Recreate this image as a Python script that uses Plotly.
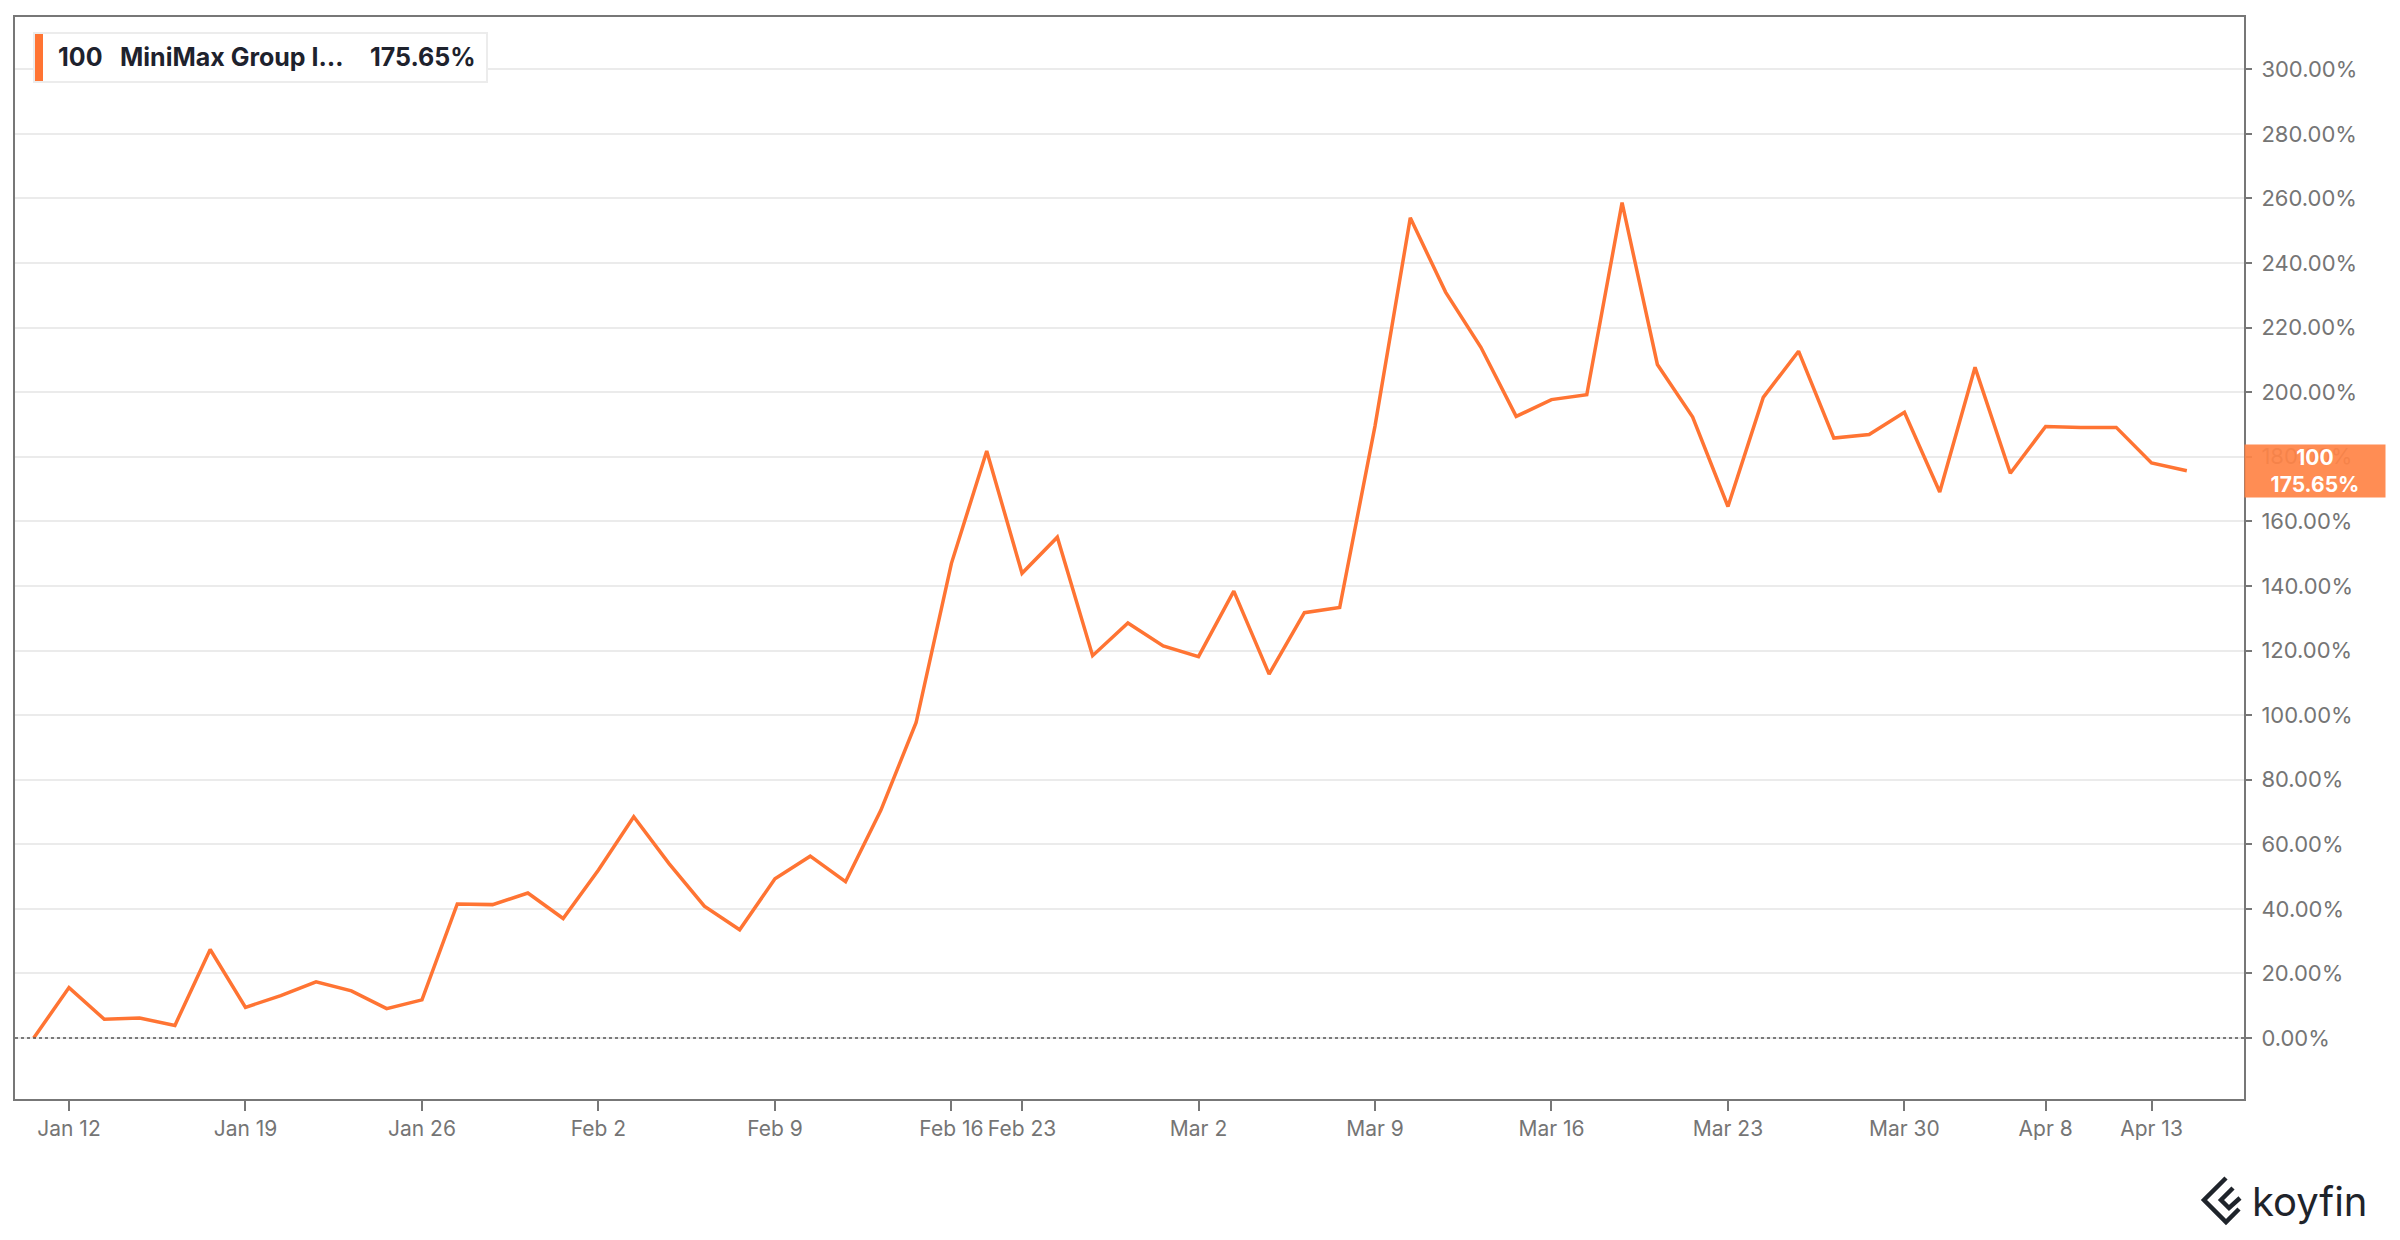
import plotly.graph_objects as go

# ---- data ----
dates = [
    "2026-01-09",
    "2026-01-12", "2026-01-13", "2026-01-14", "2026-01-15", "2026-01-16",
    "2026-01-19", "2026-01-20", "2026-01-21", "2026-01-22", "2026-01-23",
    "2026-01-26", "2026-01-27", "2026-01-28", "2026-01-29", "2026-01-30",
    "2026-02-02", "2026-02-03", "2026-02-04", "2026-02-05", "2026-02-06",
    "2026-02-09", "2026-02-10", "2026-02-11", "2026-02-12", "2026-02-13",
    "2026-02-16", "2026-02-20",
    "2026-02-23", "2026-02-24", "2026-02-25", "2026-02-26", "2026-02-27",
    "2026-03-02", "2026-03-03", "2026-03-04", "2026-03-05", "2026-03-06",
    "2026-03-09", "2026-03-10", "2026-03-11", "2026-03-12", "2026-03-13",
    "2026-03-16", "2026-03-17", "2026-03-18", "2026-03-19", "2026-03-20",
    "2026-03-23", "2026-03-24", "2026-03-25", "2026-03-26", "2026-03-27",
    "2026-03-30", "2026-03-31", "2026-04-01", "2026-04-02",
    "2026-04-08", "2026-04-09", "2026-04-10", "2026-04-13", "2026-04-14",
]
returns_pct = [
    0.0,
    15.6, 5.8, 6.2, 3.9, 27.4,
    9.5, 13.1, 17.4, 14.6, 9.1,
    11.8, 41.5, 41.3, 44.9, 37.0,
    52.0, 68.5, 54.0, 40.8, 33.5,
    49.3, 56.3, 48.4, 70.5, 97.7,
    147.0, 181.8,
    143.9, 155.1, 118.4, 128.5, 121.4,
    118.1, 138.4, 112.7, 131.7, 133.3,
    189.5, 254.0, 231.0, 213.9, 192.5,
    197.7, 199.2, 258.7, 208.6, 192.3,
    164.6, 198.4, 212.7, 185.8, 186.9,
    193.8, 169.1, 207.7, 174.9,
    189.4, 189.1, 189.1, 178.1, 175.65,
]
tick_dates = ["2026-01-12", "2026-01-19", "2026-01-26", "2026-02-02", "2026-02-09",
              "2026-02-16", "2026-02-23", "2026-03-02", "2026-03-09", "2026-03-16",
              "2026-03-23", "2026-03-30", "2026-04-08", "2026-04-13"]
tick_labels = ["Jan 12", "Jan 19", "Jan 26", "Feb 2", "Feb 9", "Feb 16", "Feb 23",
               "Mar 2", "Mar 9", "Mar 16", "Mar 23", "Mar 30", "Apr 8", "Apr 13"]
y_ticks = list(range(0, 301, 20))
series_id = "100"
series_name = "MiniMax Group I…"
last_value_text = "175.65%"

ORANGE = "#FF7433"
LABEL_ORANGE = "rgba(255,132,71,0.93)"
AXIS = "#777777"
TXT = "#757575"
DARK = "#1e222d"
FONT = "Inter"

W, H = 2400, 1240
L, R, T, B = 15, 156, 17, 141
PW, PH = W - L - R, H - T - B


def px(x):
    return (x - L) / PW


def py(y):
    return (H - B - y) / PH


fig = go.Figure()
fig.add_trace(go.Scatter(
    x=dates, y=returns_pct, mode="lines",
    line=dict(color=ORANGE, width=3.5),
    showlegend=False, hoverinfo="x+y",
))

fig.update_layout(
    width=W, height=H,
    margin=dict(l=L, r=R, t=T, b=B),
    paper_bgcolor="white", plot_bgcolor="white",
    font=dict(family=FONT, color=TXT, size=22),
    showlegend=False,
    xaxis=dict(
        type="category",
        range=[-0.53, 62.62],
        tickmode="array", tickvals=tick_dates, ticktext=tick_labels,
        tickangle=0,
        ticks="outside", ticklen=10, tickwidth=1.5, tickcolor=AXIS,
        showgrid=False, zeroline=False,
        showline=True, linecolor=AXIS, linewidth=2, mirror=True,
        tickfont=dict(family=FONT, size=21, color=TXT),
    ),
    yaxis=dict(
        side="right",
        range=[-18.9, 316.2],
        tickmode="array", tickvals=y_ticks,
        ticktext=[f"{v:.2f}%" for v in y_ticks],
        ticks="outside", ticklen=6, tickwidth=2, tickcolor=AXIS,
        showgrid=True, gridcolor="#ebebeb", gridwidth=1.5,
        zeroline=False,
        showline=True, linecolor=AXIS, linewidth=2, mirror=True,
        tickfont=dict(family=FONT, size=22, color=TXT),
        ticklabelstandoff=5,
    ),
)

shapes = [
    # zero reference line
    dict(type="line", xref="paper", x0=0, x1=1, yref="y", y0=0, y1=0,
         line=dict(color="#555555", width=1.5, dash="dot"), layer="above"),
    # legend box
    dict(type="rect", xref="paper", yref="paper",
         x0=px(34), x1=px(487), y0=py(82), y1=py(33),
         line=dict(color="#ececec", width=2), fillcolor="white", layer="above"),
    dict(type="rect", xref="paper", yref="paper",
         x0=px(35), x1=px(43), y0=py(81), y1=py(34),
         line=dict(width=0), fillcolor=ORANGE, layer="above"),
    # koyfin icon
    dict(type="path", xref="paper", yref="paper",
         path=(f"M {px(2226)},{py(1178)} L {px(2204)},{py(1200)} L {px(2226)},{py(1222)} "
               f"L {px(2239)},{py(1209)}"),
         line=dict(color="#1f242b", width=4.5)),
    dict(type="path", xref="paper", yref="paper",
         path=(f"M {px(2233)},{py(1188)} L {px(2221)},{py(1200)} L {px(2229)},{py(1208)} "
               f"L {px(2240)},{py(1198)}"),
         line=dict(color="#1f242b", width=4.5)),
]
fig.update_layout(shapes=shapes)

annotations = [
    dict(text=f"<b>{series_id}</b>", xref="paper", yref="paper", x=px(56), y=py(57),
         xanchor="left", yanchor="middle", showarrow=False,
         font=dict(family=FONT, size=25, color=DARK)),
    dict(text=f"<b>{series_name}</b>", xref="paper", yref="paper", x=px(118), y=py(57),
         xanchor="left", yanchor="middle", showarrow=False,
         font=dict(family=FONT, size=25, color=DARK)),
    dict(text=f"<b>{last_value_text}</b>", xref="paper", yref="paper", x=px(368), y=py(57),
         xanchor="left", yanchor="middle", showarrow=False,
         font=dict(family=FONT, size=25, color=DARK)),
    # last value label on the axis
    dict(text=f"<b>{series_id}<br>{last_value_text}</b>", xref="paper", yref="y",
         x=1, y=returns_pct[-1], xanchor="left", yanchor="middle", showarrow=False,
         width=138, height=50, bgcolor=LABEL_ORANGE, align="center",
         font=dict(family=FONT, size=21, color="white")),
    # brand
    dict(text="koyfin", xref="paper", yref="paper", x=px(2250), y=py(1201),
         xanchor="left", yanchor="middle", showarrow=False,
         font=dict(family=FONT, size=40, color="#1f242b")),
]
fig.update_layout(annotations=annotations)

fig.write_html("out.html", post_script="document.body.style.margin='0';",
               config={"displayModeBar": False})
